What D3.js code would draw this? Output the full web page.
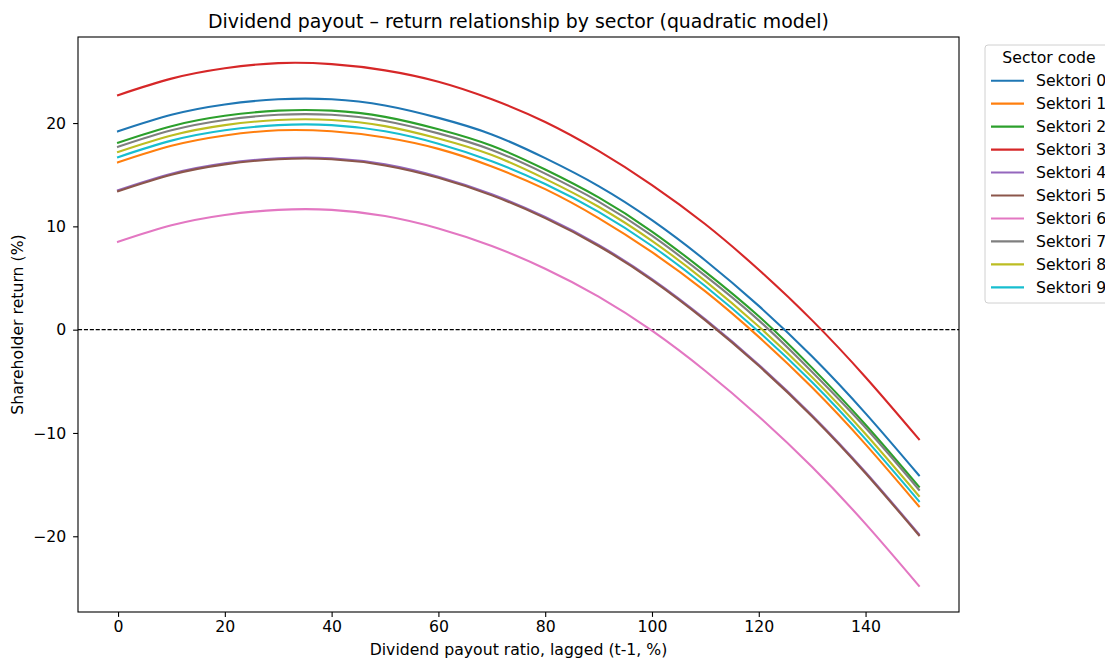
<!DOCTYPE html>
<html lang="en">
<head>
    <meta charset="UTF-8">
    <title>Dividend payout – return relationship by sector</title>
    <script src="https://d3js.org/d3.v7.min.js"></script>
    <style>
        body {
            margin: 0;
            background: #fff;
            font-family: "DejaVu Sans", sans-serif;
        }
        svg text {
            fill: #000;
        }
    </style>
</head>
<body>
    <div id="chart"></div>

    <script>
        // payout ratio grid (x) and estimated returns per sector
        const payout = [0, 10, 20, 30, 40, 50, 60, 70, 80, 90, 100, 110, 120, 130, 140, 150];

        const sectors = ['Sektori 0', 'Sektori 1', 'Sektori 2', 'Sektori 3', 'Sektori 4',
                         'Sektori 5', 'Sektori 6', 'Sektori 7', 'Sektori 8', 'Sektori 9'];

        const sektori0 = [19.2, 20.8, 21.8, 22.3, 22.3, 21.7, 20.5, 18.9, 16.6, 13.9, 10.6, 6.7, 2.3, -2.6, -8.1, -14.1];
        const sektori1 = [16.2, 17.8, 18.8, 19.3, 19.2, 18.6, 17.5, 15.8, 13.6, 10.8, 7.5, 3.7, -0.7, -5.6, -11.1, -17.1];
        const sektori2 = [18.1, 19.7, 20.7, 21.2, 21.2, 20.6, 19.4, 17.8, 15.5, 12.8, 9.5, 5.6, 1.3, -3.7, -9.2, -15.2];
        const sektori3 = [22.7, 24.3, 25.3, 25.8, 25.7, 25.1, 24.0, 22.3, 20.1, 17.3, 14.0, 10.2, 5.8, 0.9, -4.6, -10.6];
        const sektori4 = [13.5, 15.1, 16.1, 16.6, 16.6, 16.0, 14.8, 13.1, 10.9, 8.2, 4.9, 1.0, -3.4, -8.3, -13.8, -19.8];
        const sektori5 = [13.4, 15.0, 16.0, 16.5, 16.5, 15.9, 14.7, 13.0, 10.8, 8.1, 4.8, 0.9, -3.5, -8.4, -13.9, -19.9];
        const sektori6 = [8.5, 10.1, 11.1, 11.6, 11.6, 11.0, 9.8, 8.1, 5.9, 3.2, -0.1, -4.0, -8.4, -13.3, -18.8, -24.8];
        const sektori7 = [17.7, 19.3, 20.3, 20.8, 20.8, 20.2, 19.0, 17.4, 15.1, 12.4, 9.1, 5.2, 0.9, -4.1, -9.5, -15.5];
        const sektori8 = [17.2, 18.8, 19.8, 20.3, 20.3, 19.7, 18.5, 16.9, 14.6, 11.9, 8.6, 4.7, 0.3, -4.6, -10.1, -16.1];
        const sektori9 = [16.7, 18.3, 19.3, 19.8, 19.8, 19.2, 18.0, 16.3, 14.1, 11.4, 8.1, 4.2, -0.2, -5.1, -10.6, -16.6];

        const xTicks = [0, 20, 40, 60, 80, 100, 120, 140];
        const yTicks = [-20, -10, 0, 10, 20];

        const colors = ['#1f77b4', '#ff7f0e', '#2ca02c', '#d62728', '#9467bd',
                        '#8c564b', '#e377c2', '#7f7f7f', '#bcbd22', '#17becf'];

        const series = [sektori0, sektori1, sektori2, sektori3, sektori4,
                        sektori5, sektori6, sektori7, sektori8, sektori9];

        const svgWidth = 1105;
        const svgHeight = 660;
        const margin = { top: 37, right: 146, bottom: 48, left: 78 };
        const width = svgWidth - margin.left - margin.right;
        const height = svgHeight - margin.top - margin.bottom;
        const fontSize = '15.7px';

        const root = d3.select('#chart')
            .append('svg')
            .attr('width', svgWidth)
            .attr('height', svgHeight);

        const svg = root.append('g')
            .attr('transform', `translate(${margin.left},${margin.top})`);

        const xScale = d3.scaleLinear().domain([-7.5, 157.5]).range([0, width]);
        const yScale = d3.scaleLinear().domain([-27.33, 28.33]).range([height, 0]);

        // zero reference line
        svg.append('line')
            .attr('x1', 0).attr('x2', width)
            .attr('y1', yScale(0)).attr('y2', yScale(0))
            .attr('stroke', '#000')
            .attr('stroke-width', 1.1)
            .attr('stroke-dasharray', '4.1,1.8');

        const line = d3.line()
            .x((d, i) => xScale(payout[i]))
            .y(d => yScale(d))
            .curve(d3.curveNatural);

        series.forEach((values, i) => {
            svg.append('path')
                .datum(values)
                .attr('fill', 'none')
                .attr('stroke', colors[i])
                .attr('stroke-width', 2.1)
                .attr('stroke-linecap', 'square')
                .attr('d', line);
        });

        // axes
        const xAxis = svg.append('g')
            .attr('transform', `translate(0,${height})`)
            .call(d3.axisBottom(xScale).tickValues(xTicks).tickSize(4.9).tickPadding(4).tickFormat(d3.format('d')));

        const yAxis = svg.append('g')
            .call(d3.axisLeft(yScale).tickValues(yTicks).tickSize(4.9).tickPadding(7)
                .tickFormat(d => d < 0 ? '\u2212' + Math.abs(d) : d));

        [xAxis, yAxis].forEach(ax => {
            ax.select('.domain').remove();
            ax.selectAll('.tick line').attr('stroke', '#000').attr('stroke-width', 1.1);
            ax.selectAll('.tick text')
                .attr('font-family', '"DejaVu Sans", sans-serif')
                .attr('font-size', fontSize)
                .attr('fill', '#000');
        });

        // frame
        svg.append('rect')
            .attr('width', width)
            .attr('height', height)
            .attr('fill', 'none')
            .attr('stroke', '#000')
            .attr('stroke-width', 1.1);

        // title and axis labels
        svg.append('text')
            .attr('x', width / 2)
            .attr('y', -9)
            .attr('text-anchor', 'middle')
            .attr('font-size', '18.9px')
            .text('Dividend payout \u2013 return relationship by sector (quadratic model)');

        svg.append('text')
            .attr('x', width / 2)
            .attr('y', height + 43)
            .attr('text-anchor', 'middle')
            .attr('font-size', fontSize)
            .text('Dividend payout ratio, lagged (t-1, %)');

        svg.append('text')
            .attr('transform', `translate(${-55},${height / 2}) rotate(-90)`)
            .attr('text-anchor', 'middle')
            .attr('font-size', fontSize)
            .text('Shareholder return (%)');

        // legend
        const legend = root.append('g')
            .attr('transform', 'translate(985,45)');

        legend.append('rect')
            .attr('width', 150)
            .attr('height', 258)
            .attr('rx', 3)
            .attr('fill', '#fff')
            .attr('fill-opacity', 0.8)
            .attr('stroke', '#d0d0d0')
            .attr('stroke-width', 1);

        legend.append('text')
            .attr('x', 64)
            .attr('y', 18)
            .attr('text-anchor', 'middle')
            .attr('font-size', fontSize)
            .text('Sector code');

        sectors.forEach((name, i) => {
            const y = 35.7 + i * 22.96;
            legend.append('line')
                .attr('x1', 6).attr('x2', 39)
                .attr('y1', y).attr('y2', y)
                .attr('stroke', colors[i])
                .attr('stroke-width', 2.1);
            legend.append('text')
                .attr('x', 51)
                .attr('y', y + 5.5)
                .attr('font-size', fontSize)
                .text(name);
        });
    </script>
</body>
</html>
